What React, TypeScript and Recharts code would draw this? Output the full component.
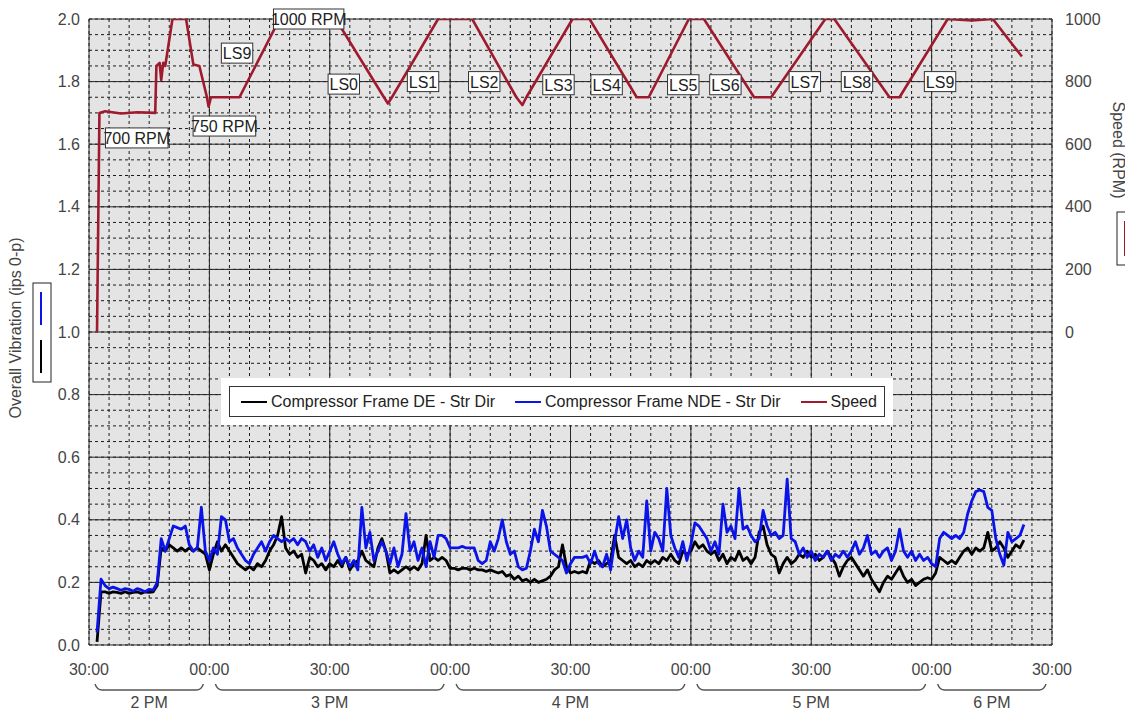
import React from "react";
import {
  ComposedChart,
  Line,
  XAxis,
  YAxis,
  CartesianGrid,
  ReferenceDot,
  Legend,
} from "recharts";

// ---------- layout ----------
const FONT = "'Liberation Sans', Arial, Helvetica, sans-serif";
const CHART_W = 1125;
const CHART_H = 703;
const AXIS_W = 81;
const PLOT_W = CHART_W - 2 * AXIS_W;
const SPAN_MIN = 240; // 2:30 PM .. 6:30 PM
const PX_PER_MIN = PLOT_W / SPAN_MIN;
const TICK_COLOR = "#454545";

// ---------- data ----------
// minutes after 2:30 PM of the first vibration sample (one sample per minute)
const VIB_START = 2;

// Compressor Frame DE - Str Dir (ips 0-p)
const deValues = [
  0.01, 0.17, 0.17, 0.165, 0.17, 0.168, 0.165, 0.17, 0.165, 0.168,
  0.17, 0.165, 0.17, 0.168, 0.17, 0.19, 0.31, 0.3, 0.32, 0.31,
  0.3, 0.31, 0.3, 0.31, 0.3, 0.31, 0.3, 0.29, 0.24, 0.29,
  0.33, 0.3, 0.32, 0.3, 0.28, 0.26, 0.25, 0.24, 0.25, 0.24,
  0.26, 0.25, 0.27, 0.3, 0.32, 0.35, 0.41, 0.31, 0.29, 0.3,
  0.28, 0.29, 0.23, 0.28, 0.27, 0.25, 0.26, 0.24, 0.26, 0.25,
  0.27, 0.25, 0.28, 0.24, 0.26, 0.27, 0.3, 0.27, 0.26, 0.25,
  0.31, 0.34, 0.3, 0.23, 0.24, 0.23, 0.24, 0.25, 0.24, 0.25,
  0.24, 0.26, 0.35, 0.27, 0.28, 0.27, 0.28, 0.27, 0.245, 0.245,
  0.24, 0.245, 0.245, 0.24, 0.245, 0.24, 0.24, 0.235, 0.24, 0.235,
  0.23, 0.235, 0.22, 0.225, 0.21, 0.22, 0.205, 0.21, 0.2, 0.21,
  0.2, 0.205, 0.21, 0.22, 0.24, 0.25, 0.32, 0.25, 0.23, 0.235,
  0.23, 0.235, 0.23, 0.27, 0.26, 0.27, 0.25, 0.26, 0.27, 0.35,
  0.28, 0.27, 0.26, 0.27, 0.25, 0.26, 0.25, 0.27, 0.26, 0.27,
  0.26, 0.28, 0.27, 0.29, 0.27, 0.26, 0.3, 0.29, 0.3, 0.33,
  0.31, 0.32, 0.3, 0.29, 0.3, 0.27, 0.29, 0.26, 0.28, 0.27,
  0.3, 0.27, 0.28, 0.26, 0.28, 0.36, 0.38, 0.32, 0.29, 0.28,
  0.23, 0.26, 0.28, 0.26, 0.27, 0.29, 0.28, 0.3, 0.28, 0.29,
  0.27, 0.28, 0.3, 0.28, 0.26, 0.22, 0.25, 0.27, 0.28, 0.26,
  0.24, 0.22, 0.24, 0.21, 0.19, 0.17, 0.2, 0.22, 0.21, 0.23,
  0.25, 0.22, 0.2, 0.21, 0.19, 0.2, 0.21, 0.215, 0.21, 0.23,
  0.28, 0.27, 0.26, 0.27, 0.26, 0.28, 0.3, 0.31, 0.29, 0.31,
  0.3, 0.31, 0.36, 0.3, 0.31, 0.33, 0.31, 0.28, 0.3, 0.32,
  0.31, 0.335,
];

// Compressor Frame NDE - Str Dir (ips 0-p)
const ndeValues = [
  0.04, 0.21, 0.19, 0.18, 0.185, 0.18, 0.175, 0.18, 0.178, 0.172,
  0.18, 0.176, 0.17, 0.178, 0.175, 0.2, 0.34, 0.3, 0.34, 0.38,
  0.375, 0.37, 0.38, 0.32, 0.3, 0.31, 0.44, 0.3, 0.27, 0.31,
  0.29, 0.41, 0.4, 0.33, 0.34, 0.31, 0.29, 0.27, 0.26, 0.29,
  0.31, 0.33, 0.3, 0.33, 0.35, 0.34, 0.33, 0.34, 0.33, 0.34,
  0.32, 0.34, 0.33, 0.3, 0.32, 0.28, 0.31, 0.27, 0.3, 0.33,
  0.29, 0.26, 0.28, 0.25, 0.27, 0.24, 0.44, 0.31, 0.36, 0.27,
  0.3, 0.33, 0.3, 0.26, 0.31, 0.25, 0.29, 0.42, 0.3, 0.33,
  0.27, 0.31, 0.25, 0.33, 0.28, 0.35, 0.35, 0.34, 0.31, 0.31,
  0.31, 0.315, 0.31, 0.31, 0.31, 0.27, 0.26, 0.27, 0.33, 0.3,
  0.34, 0.4, 0.33, 0.29, 0.3, 0.25, 0.24, 0.245, 0.3, 0.37,
  0.33, 0.43, 0.38, 0.3, 0.29, 0.28, 0.27, 0.23, 0.26, 0.28,
  0.28, 0.28, 0.285, 0.26, 0.3, 0.26, 0.25, 0.29, 0.24, 0.33,
  0.41, 0.34, 0.4, 0.31, 0.27, 0.3, 0.28, 0.46, 0.3, 0.36,
  0.34, 0.3, 0.5, 0.35, 0.31, 0.28, 0.33, 0.27, 0.32, 0.39,
  0.38, 0.36, 0.34, 0.3, 0.33, 0.29, 0.45, 0.36, 0.38, 0.34,
  0.5, 0.37, 0.38, 0.35, 0.33, 0.34, 0.43, 0.38, 0.35, 0.36,
  0.34, 0.35, 0.53, 0.34, 0.33, 0.29, 0.31, 0.28, 0.3, 0.27,
  0.29, 0.28, 0.3, 0.27, 0.29, 0.28, 0.3, 0.28, 0.3, 0.33,
  0.29, 0.31, 0.35, 0.29, 0.3, 0.28, 0.3, 0.31, 0.27, 0.3,
  0.37, 0.3, 0.28, 0.3, 0.27, 0.29, 0.27, 0.28, 0.26, 0.25,
  0.34, 0.36, 0.35, 0.34, 0.35, 0.34, 0.36, 0.42, 0.46, 0.49,
  0.495, 0.49, 0.44, 0.43, 0.34, 0.29, 0.255, 0.36, 0.33, 0.34,
  0.35, 0.385,
];

// Speed (RPM) — minutes after 2:30 PM and the speed at each
const speedTimes = [
  2.0, 2.6, 4, 8, 12, 16.5, 16.8, 17.6, 18, 18.5, 19, 20.8, 24.2, 26, 27.5,
  29.4, 29.8, 30.4, 37.5, 47.5, 61.5, 73.5, 74.5, 75.5, 87, 95.5, 106.5, 108,
  109, 120.5, 124.75, 136.5, 139.5, 149.5, 153.25, 165.75, 170, 183.5, 185.75,
  199.5, 202, 214, 220, 225.25, 232.5,
];
const speedValues = [
  0, 700, 705, 698, 702, 700, 850, 860, 805, 860, 850, 1000, 1000, 855, 850,
  750, 720, 750, 750, 1000, 1000, 750, 730, 750, 1000, 1000, 750, 725,
  750, 1000, 1000, 750, 750, 1000, 1000, 750, 750, 1000, 1000,
  750, 750, 1000, 995, 1000, 880,
];

// Axis ticks
const xTicks = [0, 30, 60, 90, 120, 150, 180, 210, 240];
const xTickLabels = ["30:00", "00:00", "30:00", "00:00", "30:00", "00:00", "30:00", "00:00", "30:00"];
const vibTicks = [0, 0.2, 0.4, 0.6, 0.8, 1.0, 1.2, 1.4, 1.6, 1.8, 2.0];
const speedTicks = [0, 200, 400, 600, 800, 1000];

// Hour groups under the time axis
const hourLabels = ["2 PM", "3 PM", "4 PM", "5 PM", "6 PM"];
const hourStarts = [0, 30, 90, 150, 210];
const hourEnds = [30, 90, 150, 210, 240];

// Boxed notes on the speed trace
const noteTexts = ["700 RPM", "750 RPM", "LS9", "1000 RPM", "LS0", "LS1", "LS2", "LS3", "LS4", "LS5", "LS6", "LS7", "LS8", "LS9"];
const noteTimes = [11.9, 33.75, 36.9, 54.75, 63.5, 83.25, 98.5, 117, 129, 148.1, 158.6, 178.4, 191.4, 212.1];
const noteLevels = [1.62, 1.658, 1.891, 2.0, 1.792, 1.8, 1.8, 1.79, 1.79, 1.79, 1.79, 1.8, 1.8, 1.8];

// Series styling
const DE_COLOR = "#000000";
const NDE_COLOR = "#0a14e8";
const SPEED_COLOR = "#a01a2e";
const seriesNames = ["Compressor Frame DE - Str Dir", "Compressor Frame NDE - Str Dir", "Speed"];
const seriesColors = [DE_COLOR, NDE_COLOR, SPEED_COLOR];

// ---------- derived tables ----------
const vibRows = deValues.map((de, i) => ({ t: VIB_START + i, de, nde: ndeValues[i] }));
const speedRows = speedTimes.map((t, i) => ({ t, rpm: speedValues[i] }));
const minorX: number[] = [];
for (let m = 0; m <= SPAN_MIN; m += 5) minorX.push(m);
const minorY: number[] = [];
for (let k = 0; k <= 40; k += 1) minorY.push(k * 0.05);

const verticalMinor = ({ xAxis, offset }: any) =>
  minorX.map((m) =>
    xAxis && typeof xAxis.scale === "function"
      ? xAxis.scale(m)
      : offset.left + (m / SPAN_MIN) * offset.width
  );
const horizontalMinor = ({ yAxis, offset }: any) =>
  minorY.map((v) =>
    yAxis && typeof yAxis.scale === "function"
      ? yAxis.scale(v)
      : offset.top + (1 - v / 2) * offset.height
  );

// ---------- pieces ----------
const HourTick = (props: any) => {
  const { x, y, index } = props;
  const start = hourStarts[index];
  const end = hourEnds[index];
  const mid = (start + end) / 2;
  const x0 = x - (mid - start) * PX_PER_MIN + 6;
  const x1 = x + (end - mid) * PX_PER_MIN - 6;
  const top = y + 9;
  const bot = y + 15;
  return (
    <g>
      <path
        d={`M${x0},${top} Q${x0 + 2},${bot} ${x0 + 7},${bot} L${x1 - 7},${bot} Q${x1 - 2},${bot} ${x1},${top}`}
        fill="none"
        stroke="#555"
        strokeWidth={1.4}
      />
      <text x={x} y={y + 33} textAnchor="middle" fontSize={16} fontFamily={FONT} fill={TICK_COLOR}>
        {hourLabels[index]}
      </text>
    </g>
  );
};

const NoteBox = (props: any) => {
  const { cx, cy, text } = props;
  const w = text.length * 7.8 + 8;
  const h = 20;
  return (
    <g>
      <rect x={cx - w / 2} y={cy - h / 2} width={w} height={h} fill="#ffffff" stroke="#333" strokeWidth={1} />
      <text x={cx} y={cy + 6} textAnchor="middle" fontSize={16} fontFamily={FONT} fill="#222">
        {text}
      </text>
    </g>
  );
};

const LeftTitle = (props: any) => {
  const vb = props.viewBox || { x: 0, y: 11, width: AXIS_W, height: 626 };
  const cx = vb.x + 8;
  const cy = vb.y + vb.height / 2 - 4;
  const bx = vb.x + 25;
  const by = vb.y + 264;
  return (
    <g>
      <text
        transform={`translate(${cx},${cy}) rotate(-90)`}
        textAnchor="middle"
        dy={5}
        fontSize={16}
        fontFamily={FONT}
        fill={TICK_COLOR}
      >
        Overall Vibration (ips 0-p)
      </text>
      <rect x={bx} y={by} width={18} height={99} fill="#fff" stroke="#222" strokeWidth={1} />
      <line x1={bx + 8} x2={bx + 8} y1={by + 9} y2={by + 42} stroke={NDE_COLOR} strokeWidth={2} />
      <line x1={bx + 8} x2={bx + 8} y1={by + 57} y2={by + 90} stroke={DE_COLOR} strokeWidth={2} />
    </g>
  );
};

const RightTitle = (props: any) => {
  const vb = props.viewBox || { x: CHART_W - AXIS_W, y: 11, width: AXIS_W, height: 626 };
  const cx = vb.x + 66;
  const cy = vb.y + 131;
  const bx = vb.x + 65;
  const by = vb.y + 193;
  return (
    <g>
      <text
        transform={`translate(${cx},${cy}) rotate(90)`}
        textAnchor="middle"
        dy={5}
        fontSize={16}
        fontFamily={FONT}
        fill={TICK_COLOR}
      >
        Speed (RPM)
      </text>
      <rect x={bx} y={by} width={18} height={53} fill="#fff" stroke="#222" strokeWidth={1} />
      <line x1={bx + 8} x2={bx + 8} y1={by + 9} y2={by + 44} stroke={SPEED_COLOR} strokeWidth={2} />
    </g>
  );
};

const LegendBox = () => (
  <div style={{ background: "#ffffff", padding: 8, boxSizing: "border-box", width: 672, height: 47 }}>
    <div
      style={{
        border: "1px solid #333",
        height: 31,
        boxSizing: "border-box",
        display: "flex",
        alignItems: "center",
        paddingLeft: 11,
        fontFamily: FONT,
        fontSize: 16,
        color: "#222",
        whiteSpace: "nowrap",
      }}
    >
      {seriesNames.map((name, i) => (
        <span key={name} style={{ display: "inline-flex", alignItems: "center", marginRight: 20 }}>
          <span style={{ display: "inline-block", width: 26, height: 2, background: seriesColors[i], marginRight: 4 }} />
          {name}
        </span>
      ))}
    </div>
  </div>
);

export default function App() {
  return (
    <ComposedChart
      width={CHART_W}
      height={CHART_H}
      data={vibRows}
      margin={{ top: 11, right: 0, bottom: 0, left: 0 }}
      style={{ fontFamily: FONT }}
    >
      <CartesianGrid
        fill="#e4e4e4"
        fillOpacity={1}
        stroke="#1a1a1a"
        strokeDasharray="3 3"
        verticalCoordinatesGenerator={verticalMinor}
        horizontalCoordinatesGenerator={horizontalMinor}
      />
      <CartesianGrid stroke="#262626" strokeWidth={1} fill="none" />

      <XAxis
        dataKey="t"
        type="number"
        domain={[0, SPAN_MIN]}
        ticks={xTicks}
        interval={0}
        allowDataOverflow
        height={30}
        axisLine={false}
        tickLine={false}
        tickSize={0}
        tickMargin={19}
        tickFormatter={(_v: number, i: number) => xTickLabels[i]}
        tick={{ fontSize: 16, fill: TICK_COLOR, fontFamily: FONT }}
      />
      <XAxis
        xAxisId="hour"
        dataKey="t"
        type="number"
        domain={[0, SPAN_MIN]}
        ticks={hourStarts.map((s, i) => (s + hourEnds[i]) / 2)}
        interval={0}
        allowDataOverflow
        height={36}
        axisLine={false}
        tickLine={false}
        tickSize={0}
        tickMargin={0}
        tick={(p: any) => <HourTick {...p} />}
      />
      <YAxis
        type="number"
        domain={[0, 2]}
        ticks={vibTicks}
        interval={0}
        allowDataOverflow
        width={AXIS_W}
        axisLine={false}
        tickLine={false}
        tickSize={0}
        tickMargin={9}
        tickFormatter={(v: number) => v.toFixed(1)}
        tick={{ fontSize: 16, fill: TICK_COLOR, fontFamily: FONT }}
        label={{ content: (p: any) => <LeftTitle {...p} /> }}
      />
      <YAxis
        yAxisId="rpm"
        orientation="right"
        type="number"
        domain={[-1000, 1000]}
        ticks={speedTicks}
        interval={0}
        allowDataOverflow
        width={AXIS_W}
        axisLine={false}
        tickLine={false}
        tickSize={0}
        tickMargin={13}
        tick={{ fontSize: 16, fill: TICK_COLOR, fontFamily: FONT, textAnchor: "start" }}
        label={{ content: (p: any) => <RightTitle {...p} /> }}
      />

      <Line
        name={seriesNames[0]}
        dataKey="de"
        type="linear"
        stroke={DE_COLOR}
        strokeWidth={2.8}
        strokeLinejoin="round"
        dot={false}
        isAnimationActive={false}
      />
      <Line
        name={seriesNames[1]}
        dataKey="nde"
        type="linear"
        stroke={NDE_COLOR}
        strokeWidth={2.8}
        strokeLinejoin="round"
        dot={false}
        isAnimationActive={false}
      />
      <Line
        name={seriesNames[2]}
        data={speedRows}
        dataKey="rpm"
        yAxisId="rpm"
        type="linear"
        stroke={SPEED_COLOR}
        strokeWidth={2.6}
        strokeLinejoin="round"
        dot={false}
        isAnimationActive={false}
      />

      {noteTexts.map((text, i) => (
        <ReferenceDot
          key={`${text}-${i}`}
          x={noteTimes[i]}
          y={noteLevels[i]}
          r={0}
          ifOverflow="visible"
          shape={(p: any) => <NoteBox {...p} text={text} />}
        />
      ))}

      <Legend
        layout="horizontal"
        verticalAlign="middle"
        align="center"
        content={() => <LegendBox />}
        wrapperStyle={{ position: "absolute", left: 213, top: 370, width: 672, height: 47 }}
      />
    </ComposedChart>
  );
}
